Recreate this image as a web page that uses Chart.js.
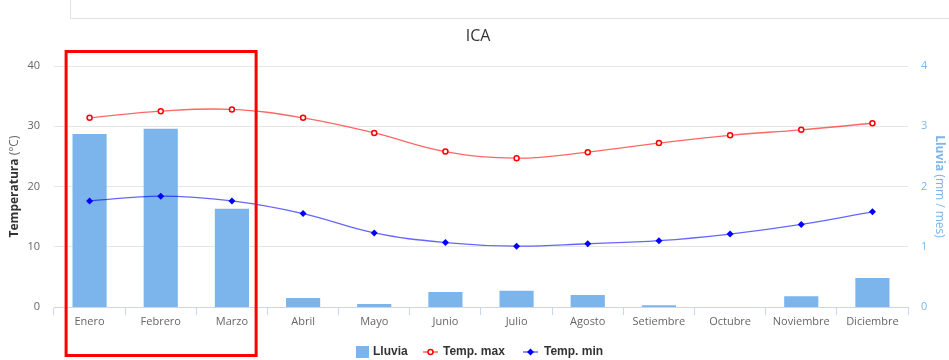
<!DOCTYPE html>
<html lang="es">
<head>
<meta charset="UTF-8">
<title>ICA</title>
<script src="https://cdn.jsdelivr.net/npm/chart.js@4"></script>
<style>
  body { margin: 0; background: #fff; }
  #wrap { position: relative; width: 949px; height: 360px; }
  #marco { position: absolute; left: 70px; top: 0; width: 879px; height: 19px; box-sizing: border-box;
           border-left: 1px solid #dfe3e8; border-bottom: 1px solid #dfe3e8; }
  canvas { position: absolute; left: 0; top: 0; }
</style>
</head>
<body>
<div id="wrap">
  <div id="marco"></div>
  <canvas id="clima" width="949" height="360"></canvas>
</div>
<script>
const meses = ['Enero', 'Febrero', 'Marzo', 'Abril', 'Mayo', 'Junio', 'Julio',
  'Agosto', 'Setiembre', 'Octubre', 'Noviembre', 'Diciembre'];
const lluvia = [2.87, 2.96, 1.63, 0.15, 0.05, 0.25, 0.27, 0.2, 0.03, 0, 0.18, 0.48];
const tempMax = [31.4, 32.5, 32.8, 31.4, 28.9, 25.8, 24.7, 25.7, 27.2, 28.5, 29.4, 30.5];
const tempMin = [17.6, 18.4, 17.6, 15.5, 12.3, 10.7, 10.1, 10.5, 11.0, 12.1, 13.7, 15.8];
const ticksTemp = [0, 10, 20, 30, 40];
const ticksLluvia = [0, 1, 2, 3, 4];

const AZUL_LLUVIA = '#7cb5ec';
const ROJO = '#ff0000';
const AZUL = '#0000ff';
const FUENTE = '"Open Sans", "DejaVu Sans", sans-serif';
const FUENTE_LEYENDA = '"Liberation Sans", Arial, sans-serif';

Chart.defaults.font.family = FUENTE;

// titulo, titulos de ejes, leyenda y recuadro de los meses lluviosos
const decoracion = {
  id: 'decoracion',
  afterDraw(chart) {
    const ctx = chart.ctx;
    const area = chart.chartArea;
    const x = chart.scales.x;

    ctx.save();
    ctx.textBaseline = 'middle';

    // titulo
    ctx.fillStyle = '#333333';
    ctx.font = '16px ' + FUENTE;
    ctx.textAlign = 'center';
    ctx.fillText('ICA', 478, 36);

    // titulo eje izquierdo
    const yMid = (area.top + area.bottom) / 2;
    ctx.textAlign = 'left';
    ctx.save();
    ctx.translate(15, yMid);
    ctx.rotate(-Math.PI / 2);
    ctx.font = 'bold 12px ' + FUENTE;
    const a1 = ctx.measureText('Temperatura').width;
    ctx.font = '12px ' + FUENTE;
    const a2 = ctx.measureText(' (°C)').width;
    let px = -(a1 + a2) / 2;
    ctx.font = 'bold 12px ' + FUENTE;
    ctx.fillStyle = '#333333';
    ctx.fillText('Temperatura', px, 0);
    ctx.font = '12px ' + FUENTE;
    ctx.fillStyle = '#666666';
    ctx.fillText(' (°C)', px + a1, 0);
    ctx.restore();

    // titulo eje derecho
    ctx.save();
    ctx.translate(939, yMid);
    ctx.rotate(Math.PI / 2);
    ctx.font = 'bold 12px ' + FUENTE;
    const b1 = ctx.measureText('Lluvia').width;
    ctx.font = '12px ' + FUENTE;
    const b2 = ctx.measureText(' (mm / mes)').width;
    px = -(b1 + b2) / 2;
    ctx.fillStyle = AZUL_LLUVIA;
    ctx.font = 'bold 12px ' + FUENTE;
    ctx.fillText('Lluvia', px, 0);
    ctx.font = '12px ' + FUENTE;
    ctx.fillText(' (mm / mes)', px + b1, 0);
    ctx.restore();

    // leyenda
    const ly = 352;
    ctx.font = 'bold 12px ' + FUENTE_LEYENDA;
    ctx.fillStyle = AZUL_LLUVIA;
    ctx.fillRect(356, ly - 6, 13, 12);
    ctx.fillStyle = '#333333';
    ctx.fillText('Lluvia', 373, ly);

    ctx.strokeStyle = 'rgba(255,0,0,0.6)';
    ctx.lineWidth = 1.5;
    ctx.beginPath(); ctx.moveTo(423, ly); ctx.lineTo(438, ly); ctx.stroke();
    ctx.beginPath(); ctx.arc(430.5, ly, 2.5, 0, Math.PI * 2);
    ctx.fillStyle = '#ffffff'; ctx.fill();
    ctx.strokeStyle = ROJO; ctx.stroke();
    ctx.fillStyle = '#333333';
    ctx.fillText('Temp. max', 443, ly);

    ctx.strokeStyle = 'rgba(0,0,255,0.6)';
    ctx.beginPath(); ctx.moveTo(523, ly); ctx.lineTo(538, ly); ctx.stroke();
    ctx.fillStyle = AZUL;
    ctx.beginPath();
    ctx.moveTo(530.5, ly - 3.5); ctx.lineTo(534, ly); ctx.lineTo(530.5, ly + 3.5); ctx.lineTo(527, ly);
    ctx.closePath(); ctx.fill();
    ctx.fillStyle = '#333333';
    ctx.fillText('Temp. min', 544, ly);

    // recuadro Enero - Marzo
    const ancho = x.width / meses.length;
    const izq = x.getPixelForValue(0) - ancho * 0.33;
    const der = x.getPixelForValue(2) + ancho * 0.34;
    ctx.strokeStyle = ROJO;
    ctx.lineWidth = 3;
    ctx.strokeRect(izq, area.top - 14.5, der - izq, 355.5 - (area.top - 14.5));

    ctx.restore();
  }
};

new Chart(document.getElementById('clima'), {
  data: {
    labels: meses,
    datasets: [
      {
        type: 'line',
        label: 'Temp. max',
        data: tempMax,
        yAxisID: 'yTemp',
        order: 1,
        borderColor: 'rgba(255,0,0,0.6)',
        borderWidth: 1.3,
        tension: 0.4,
        pointStyle: 'circle',
        pointRadius: 2.5,
        pointBorderWidth: 1.5,
        pointBorderColor: ROJO,
        pointBackgroundColor: '#ffffff'
      },
      {
        type: 'line',
        label: 'Temp. min',
        data: tempMin,
        yAxisID: 'yTemp',
        order: 2,
        borderColor: 'rgba(0,0,255,0.6)',
        borderWidth: 1.3,
        tension: 0.4,
        pointStyle: 'rectRot',
        pointRadius: 3.5,
        pointBorderWidth: 0,
        pointBorderColor: AZUL,
        pointBackgroundColor: AZUL
      },
      {
        type: 'bar',
        label: 'Lluvia',
        data: lluvia,
        yAxisID: 'yLluvia',
        order: 3,
        backgroundColor: AZUL_LLUVIA,
        borderWidth: 0,
        categoryPercentage: 1,
        barPercentage: 0.48
      }
    ]
  },
  options: {
    responsive: false,
    animation: false,
    layout: { padding: { top: 66, left: 0, right: 0, bottom: 0 } },
    plugins: {
      legend: { display: false },
      title: { display: false },
      tooltip: { enabled: false }
    },
    scales: {
      x: {
        offset: true,
        afterFit(s) { s.height = 53; },
        grid: { offset: true, drawOnChartArea: false, drawTicks: true, tickLength: 8, color: '#ccd6eb' },
        border: { color: '#ccd6eb', width: 1 },
        ticks: { color: '#666666', font: { size: 11 }, padding: 0, maxRotation: 0, autoSkip: false }
      },
      yTemp: {
        position: 'left',
        min: 0,
        max: 40,
        afterFit(s) { s.width = 54; },
        afterBuildTicks(s) { s.ticks = ticksTemp.map(v => ({ value: v })); },
        grid: { color: '#e6e6e6', drawTicks: false },
        border: { display: false },
        ticks: { color: '#666666', font: { size: 11 }, padding: 14 }
      },
      yLluvia: {
        position: 'right',
        min: 0,
        max: 4,
        afterFit(s) { s.width = 41; },
        afterBuildTicks(s) { s.ticks = ticksLluvia.map(v => ({ value: v })); },
        grid: { display: false, drawTicks: false },
        border: { display: false },
        ticks: { color: AZUL_LLUVIA, font: { size: 11 }, padding: 13 }
      }
    }
  },
  plugins: [decoracion]
});
</script>
</body>
</html>
